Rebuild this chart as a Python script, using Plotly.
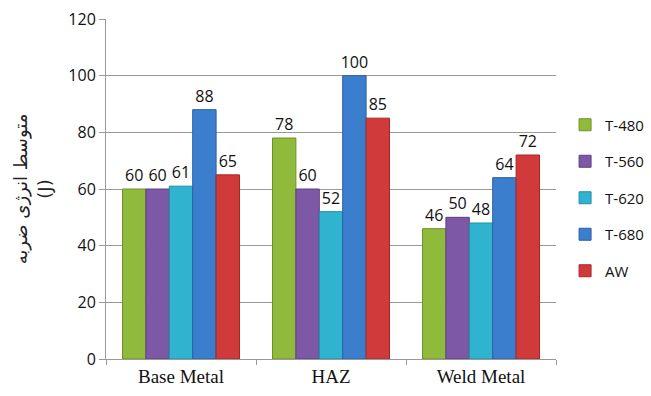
import plotly.graph_objects as go

categories = ["Base Metal", "HAZ", "Weld Metal"]
series_names = ["T-480", "T-560", "T-620", "T-680", "AW"]
t480 = [60, 78, 46]
t560 = [60, 60, 50]
t620 = [61, 52, 48]
t680 = [88, 100, 64]
aw = [65, 85, 72]
y_ticks = [0, 20, 40, 60, 80, 100, 120]

series_values = [t480, t560, t620, t680, aw]
fills = ["#8FBA3C", "#7C58A6", "#2FB3CF", "#3A7ECD", "#D03A3A"]
edges = ["#6E9228", "#5E3F86", "#1E8EA8", "#2A5FA8", "#A62828"]

fig = go.Figure()
for name, vals, fc, ec in zip(series_names, series_values, fills, edges):
    fig.add_trace(go.Bar(
        name=name,
        x=categories,
        y=vals,
        text=[str(v) for v in vals],
        textposition="outside",
        constraintext="none",
        cliponaxis=False,
        textfont=dict(family="Open Sans, Liberation Sans, sans-serif", size=16, color="#111"),
        marker=dict(color=fc, line=dict(color=ec, width=1)),
        legendgroup=name,
    ))

fig.update_layout(
    width=651,
    height=396,
    margin=dict(l=106, r=95, t=19, b=37, autoexpand=False),
    paper_bgcolor="white",
    plot_bgcolor="white",
    barmode="group",
    bargap=0.22,
    bargroupgap=0,
    showlegend=True,
    legend=dict(
        xref="container", x=0.868, xanchor="left",
        yref="container", y=0.5, yanchor="middle",
        font=dict(family="Open Sans, Liberation Sans, sans-serif", size=15, color="#111"),
        tracegroupgap=14,
        itemwidth=30,
        bgcolor="rgba(0,0,0,0)",
    ),
    xaxis=dict(
        type="category",
        showline=True,
        linecolor="#999",
        linewidth=1,
        ticks="outside",
        tickson="boundaries",
        ticklen=5,
        tickcolor="#999",
        showgrid=False,
        tickfont=dict(family="Liberation Serif, Times New Roman, serif", size=19, color="#111"),
    ),
    yaxis=dict(
        range=[0, 120],
        tickvals=y_ticks,
        showline=True,
        linecolor="#999",
        linewidth=1,
        ticks="outside",
        ticklen=6,
        tickcolor="#999",
        showgrid=True,
        gridcolor="#999",
        gridwidth=1,
        zeroline=False,
        tickfont=dict(family="Open Sans, Liberation Sans, sans-serif", size=16, color="#111"),
        title=dict(
            text="متوسط انرژی ضربه<br>(J)",
            font=dict(family="DejaVu Sans, sans-serif", size=18, color="#222"),
            standoff=12,
        ),
    ),
)

fig.write_html("out.html")
